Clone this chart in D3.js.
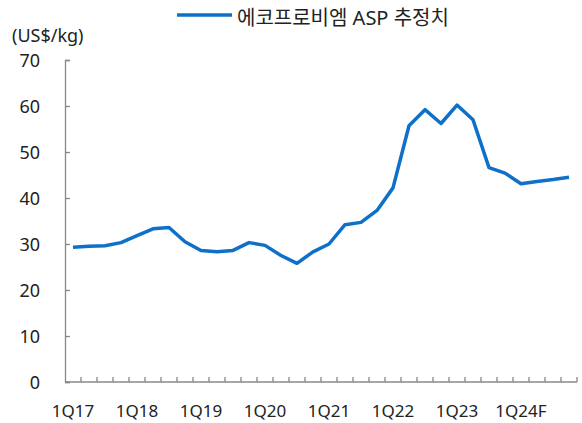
<!DOCTYPE html>
<html>
<head>
<meta charset="utf-8">
<script src="https://cdn.jsdelivr.net/npm/d3@7"></script>
<style>
  body { margin: 0; background: #fff; }
  text { font-family: "Noto Sans", "Noto Sans CJK KR", sans-serif; fill: #222; }
</style>
</head>
<body>
<div id="chart"></div>
<script>
// quarters 1Q17 .. 4Q24
const years = ["17", "18", "19", "20", "21", "22", "23", "24"];
const quarters = years.flatMap(y => [1, 2, 3, 4].map(q => q + "Q" + y));
const tickLabels = ["1Q17", "1Q18", "1Q19", "1Q20", "1Q21", "1Q22", "1Q23", "1Q24F"];
const asp = [29.3, 29.5, 29.6, 30.3, 31.8, 33.3, 33.6, 30.5,
             28.6, 28.3, 28.6, 30.3, 29.7, 27.5, 25.8, 28.3,
             30.0, 34.2, 34.7, 37.3, 42.2, 55.7, 59.2, 56.2,
             60.2, 57.0, 46.6, 45.4, 43.1, 43.6, 44.0, 44.5];
const yTicks = [0, 10, 20, 30, 40, 50, 60, 70];

const width = 582, height = 423;
const margin = {top: 60, right: 5, bottom: 41, left: 65};

const svg = d3.select("#chart").append("svg")
    .attr("width", width).attr("height", height);

const x = d3.scaleBand().domain(quarters)
    .range([margin.left, width - margin.right]);
const y = d3.scaleLinear().domain([0, 70])
    .range([height - margin.bottom, margin.top]);

const axisColor = "#888";

// y axis, ticks pointing inward
const yAxis = svg.append("g")
    .attr("transform", `translate(${margin.left},0)`)
    .call(d3.axisRight(y).tickValues(yTicks).tickSize(5).tickFormat(""));
yAxis.select(".domain").attr("stroke", axisColor).attr("stroke-width", 1.3);
yAxis.selectAll(".tick line").attr("stroke", axisColor).attr("stroke-width", 1.3);

svg.append("g").selectAll("text").data(yTicks).join("text")
    .attr("x", 40).attr("y", d => y(d) + 6.5)
    .attr("text-anchor", "end")
    .style("font-size", "18px")
    .text(d => d);

// x axis: ticks at quarter boundaries, pointing up
const x0 = y(0);
svg.append("line")
    .attr("x1", margin.left).attr("x2", width - margin.right)
    .attr("y1", x0).attr("y2", x0)
    .attr("stroke", axisColor).attr("stroke-width", 1.3);
svg.append("g").selectAll("line").data(quarters).join("line")
    .attr("x1", d => x(d) + x.bandwidth()).attr("x2", d => x(d) + x.bandwidth())
    .attr("y1", x0).attr("y2", x0 - 5)
    .attr("stroke", axisColor).attr("stroke-width", 1.3);

svg.append("g").selectAll("text").data(tickLabels).join("text")
    .attr("x", (d, i) => x(quarters[i * 4]) + x.bandwidth() / 2)
    .attr("y", 417)
    .attr("text-anchor", "middle")
    .style("font-size", "17px")
    .text(d => d);

// line
const line = d3.line()
    .x((d, i) => x(quarters[i]) + x.bandwidth() / 2)
    .y(d => y(d));
svg.append("path").datum(asp)
    .attr("d", line)
    .attr("fill", "none")
    .attr("stroke", "#0E70C8")
    .attr("stroke-width", 3.5)
    .attr("stroke-linejoin", "round");

// unit label
svg.append("text").attr("x", 12).attr("y", 42)
    .style("font-size", "18px").text("(US$/kg)");

// legend
svg.append("line").attr("x1", 177).attr("x2", 232).attr("y1", 15).attr("y2", 15)
    .attr("stroke", "#0E70C8").attr("stroke-width", 3.5);
svg.append("text").attr("x", 237).attr("y", 25)
    .style("font-size", "20px")
    .text("에코프로비엠 ASP 추정치");
</script>
</body>
</html>
